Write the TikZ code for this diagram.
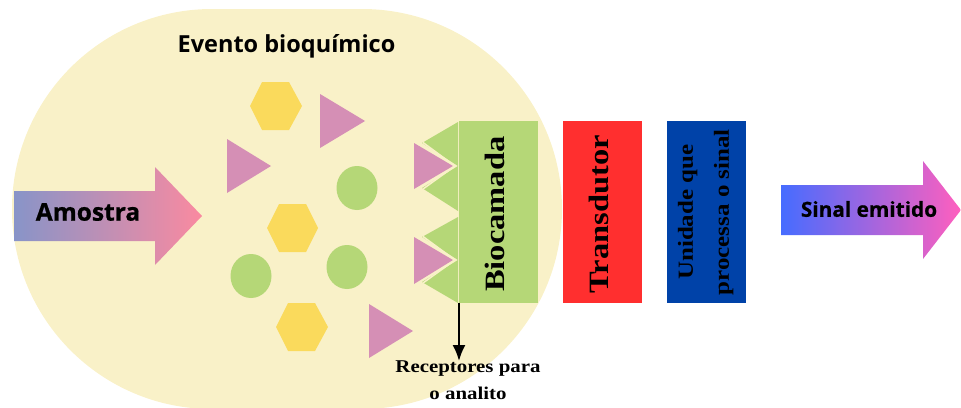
\documentclass[tikz,border=0pt]{standalone}
\usepackage{fontspec}
\usetikzlibrary{arrows.meta}
\setmainfont{Liberation Serif}
\setsansfont{Open Sans}
\definecolor{cream}{HTML}{F9F1C8}
\definecolor{leaf}{HTML}{B5D777}
\definecolor{mauve}{HTML}{D58FB5}
\definecolor{honey}{HTML}{FADA5C}
\definecolor{redbox}{HTML}{FF2F2F}
\definecolor{bluebox}{HTML}{0042A8}
\newcommand{\wideserif}{\bfseries\addfontfeature{FakeStretch=1.16}}
\newcommand{\heavyface}{\sffamily\bfseries\addfontfeature{FakeBold=0.7}}
\tikzset{
  pink/.style={fill=mauve},
  hexa/.style={fill=honey},
  blob/.style={fill=leaf},
  green/.style={fill=leaf},
  block/.style={minimum width=79pt,minimum height=182pt,inner sep=0pt,anchor=north west},
  sanslabel/.style={text=black,inner sep=0pt},
  seriflabel/.style={text=black,inner sep=0pt,rotate=90,align=center},
}
\begin{document}
\begin{tikzpicture}[x=1pt,y=-1pt]
\useasboundingbox (0,0) rectangle (961,407);
\begin{scope}
\clip (0,0) rectangle (961,407);
\fill[cream] (362,9) arc[start angle=-90,end angle=90,radius=200] -- (212,409) arc[start angle=90,end angle=270,radius=200] -- cycle;
\end{scope}
\shade[shading=axis,left color={rgb,255:red,136;green,148;blue,200},right color={rgb,255:red,250;green,138;blue,160}]
  (14,191) -- (155,191) -- (155,167) -- (202,216) -- (155,265) -- (155,241) -- (14,241) -- cycle;
\node[sanslabel,font=\fontsize{24.5}{28}\selectfont\heavyface] (amostra) at (88,212) {Amostra};
\node[sanslabel,font=\sffamily\bfseries\fontsize{23.5}{28}\selectfont] (evento) at (286.5,46) {Evento bioquímico};
\fill[hexa] (250,106) -- (262,82) -- (289,82) -- (302,106) -- (289,130) -- (262,130) -- cycle;
\fill[hexa] (267,228) -- (279,204) -- (306,204) -- (318,228) -- (306,252) -- (279,252) -- cycle;
\fill[hexa] (276,327) -- (288,303) -- (315,303) -- (328,327) -- (315,351) -- (288,351) -- cycle;
\fill[pink] (227,139) -- (271,166) -- (227,193) -- cycle;
\fill[pink] (320,94) -- (365,121) -- (320,148) -- cycle;
\fill[pink] (369,304) -- (413,331) -- (369,358) -- cycle;
\fill[blob] (357,188) ellipse[x radius=20.5,y radius=22];
\fill[blob] (347,267) ellipse[x radius=20.5,y radius=22];
\fill[blob] (251,276) ellipse[x radius=20.5,y radius=22];
\fill[green] (458,122) -- (422,143) -- (458,166) -- cycle;
\fill[green] (458,166) -- (422,188) -- (458,211) -- cycle;
\fill[green] (458,217) -- (422,237) -- (458,260) -- cycle;
\fill[green] (458,260) -- (422,282) -- (458,303) -- cycle;
\fill[pink] (414,143) -- (453,166) -- (414,189) -- cycle;
\fill[pink] (414,237) -- (453,260) -- (414,284) -- cycle;
\draw[cream,line width=1.5pt] (423,142.5) -- (455,166) -- (423,189);
\draw[cream,line width=1.5pt] (423,236.5) -- (455,260) -- (423,283);
\node[block,fill=leaf] (bio) at (459,121) {};
\node[seriflabel,font=\fontsize{28}{36}\selectfont\wideserif] at ([xshift=-4pt,yshift=-2pt]bio.center) {Biocamada};
\node[block,fill=redbox] (trans) at (563,121) {};
\node[seriflabel,font=\fontsize{28}{36}\selectfont\wideserif] at ([xshift=-4pt,yshift=-2pt]trans.center) {Transdutor};
\node[block,fill=bluebox] (unit) at (667,121) {};
\node[seriflabel,font=\fontsize{21.5}{36}\selectfont\wideserif] at ([xshift=-1pt]unit.center) {Unidade que\\processa o sinal};
\node[font=\fontsize{18}{27}\selectfont\wideserif,align=center,inner sep=0pt,anchor=north] (recep) at (468,361) {Receptores para\\o analito};
\draw[-{Latex[length=16pt,width=13pt]},line width=2pt] (bio.south west) -- (bio.south west |- recep.north);
\shade[shading=axis,left color={rgb,255:red,70;green,108;blue,255},right color={rgb,255:red,255;green,95;blue,190}]
  (781,185) -- (923,185) -- (923,161) -- (961,210) -- (923,259) -- (923,235) -- (781,235) -- cycle;
\node[sanslabel,font=\fontsize{20.8}{24}\selectfont\heavyface] (sinal) at (869,209) {Sinal emitido};
\end{tikzpicture}
\end{document}
